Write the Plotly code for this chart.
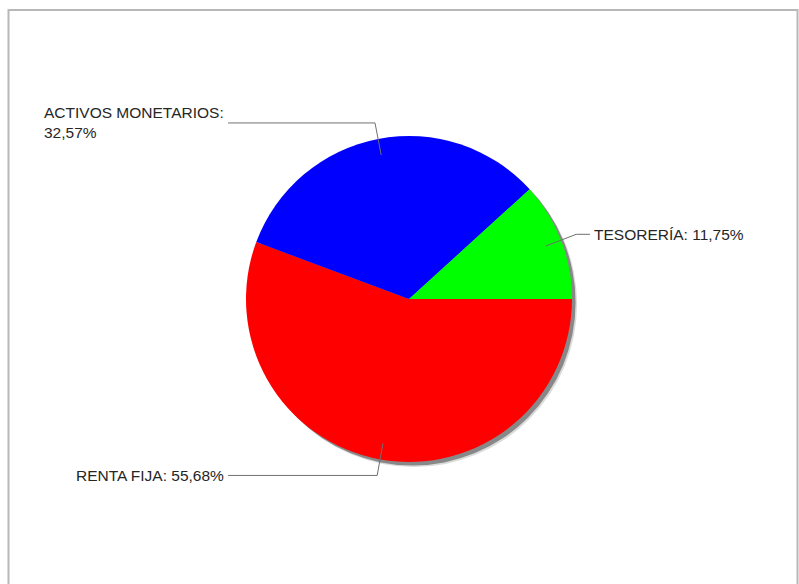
import math
import plotly.graph_objects as go

# ---- data ----
labels = ["TESORERÍA", "ACTIVOS MONETARIOS", "RENTA FIJA"]
values = [11.75, 32.57, 55.68]
colors = ["#00ff00", "#0000ff", "#ff0000"]

# ---- geometry / style (pixels) ----
W, H = 799, 584
cx, cy, R = 409, 299, 163
FONT = dict(family="Liberation Sans, Arial, sans-serif", size=15.5, color="#262626")
LINE_COLOR = "#707070"


def px(x):
    return x / W


def py(y):
    return 1 - y / H


def domain(dx=0, dy=0):
    return dict(x=[px(cx - R + dx), px(cx + R + dx)],
                y=[py(cy + R + dy), py(cy - R + dy)])


fig = go.Figure()

# soft drop shadow
for off, col in [(5, "rgba(0,0,0,0.14)"), (3.5, "rgba(0,0,0,0.38)")]:
    fig.add_trace(go.Pie(values=[1], labels=["shadow"], marker=dict(colors=[col]),
                         textinfo="none", hoverinfo="skip", sort=False,
                         showlegend=False, domain=domain(off, off)))

# slices run counter-clockwise from 3 o'clock: drawn clockwise in reverse order
fig.add_trace(go.Pie(values=values[::-1], labels=labels[::-1],
                     marker=dict(colors=colors[::-1], line=dict(width=0)),
                     textinfo="none", hoverinfo="label+percent", sort=False,
                     direction="clockwise", rotation=90,
                     showlegend=False, domain=domain()))

shapes = []
annotations = []
total = sum(values)
cum = 0.0
for name, v in zip(labels, values):
    mid = (cum + v / 2) / total * 2 * math.pi
    cum += v
    c, s = math.cos(mid), math.sin(mid)
    x1, y1 = cx + 0.9 * R * c, cy - 0.9 * R * s
    x2, y2 = cx + 1.1 * R * c, cy - 1.1 * R * s
    side = 1 if c >= 0 else -1
    x3 = cx + side * 1.11 * R
    for (a, b, e, f) in [(x1, y1, x2, y2), (x2, y2, x3, y2)]:
        shapes.append(dict(type="line", xref="paper", yref="paper",
                           x0=px(a), y0=py(b), x1=px(e), y1=py(f),
                           line=dict(color=LINE_COLOR, width=1)))
    pct = f"{v:.2f}".replace(".", ",") + "%"
    sep = "<br>" if len(name) > 15 else " "
    annotations.append(dict(xref="paper", yref="paper",
                            x=px(x3 + side * 2), y=py(y2),
                            xanchor="left" if side > 0 else "right", yanchor="middle",
                            align="left", showarrow=False, font=FONT,
                            text=f"{name}:{sep}{pct}"))

# outer frame
shapes.append(dict(type="rect", xref="paper", yref="paper",
                   x0=px(8.5), y0=py(H + 20), x1=px(797.5), y1=py(10),
                   line=dict(color="#b8b8b8", width=2)))

fig.update_layout(width=W, height=H, margin=dict(l=0, r=0, t=0, b=0),
                  paper_bgcolor="white", plot_bgcolor="white",
                  shapes=shapes, annotations=annotations, showlegend=False)

fig.write_html("out.html", config={"displayModeBar": False},
               post_script="document.body.style.margin='0';document.body.style.overflow='hidden';")
